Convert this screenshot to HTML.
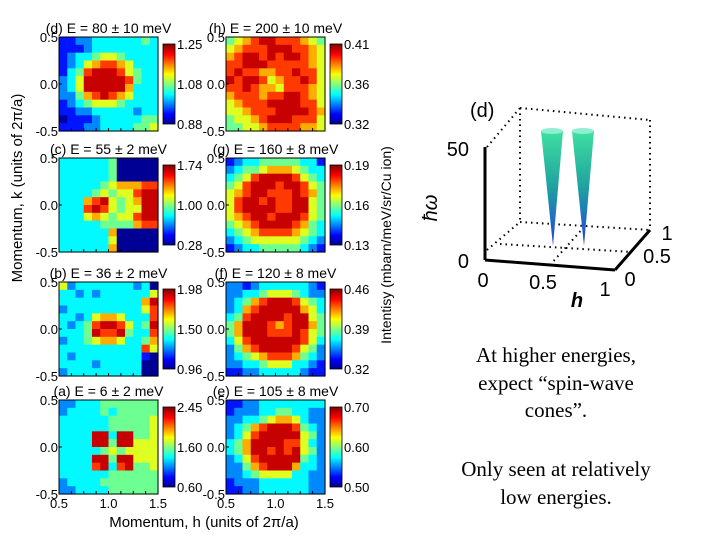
<!DOCTYPE html>
<html><head><meta charset="utf-8"><style>
body{margin:0;background:#fff;}
svg{display:block;font-family:"Liberation Sans",sans-serif;}
.t{font-family:"Liberation Serif",serif;font-size:21px;}
</style></head><body>
<svg id="s" width="720" height="540" viewBox="0 0 720 540">
<defs>
<linearGradient id="jet" x1="0" y1="1" x2="0" y2="0">
<stop offset="0" stop-color="#00008f"/><stop offset="0.12" stop-color="#0000ff"/><stop offset="0.37" stop-color="#00ffff"/><stop offset="0.62" stop-color="#ffff00"/><stop offset="0.87" stop-color="#ff0000"/><stop offset="1" stop-color="#800000"/>
</linearGradient>
<linearGradient id="cone" x1="0" y1="0" x2="0" y2="1">
<stop offset="0" stop-color="#3fe0a0"/><stop offset="0.5" stop-color="#1fa0a0"/><stop offset="1" stop-color="#2040e0"/>
</linearGradient>
</defs>
<g id="panels"></g>
<text x="22" y="188" font-size="15" text-anchor="middle" transform="rotate(-90 22 188)">Momentum, k (units of 2π/a)</text>
<text x="391" y="245" font-size="14" text-anchor="middle" transform="rotate(-90 391 245)">Intentisy (mbarn/meV/sr/Cu ion)</text>
<text x="204" y="527" font-size="15" text-anchor="middle">Momentum, h (units of 2π/a)</text>

<g>
<g stroke="#000" stroke-width="2" stroke-dasharray="1.5 4" fill="none">
<line x1="520" y1="108" x2="650" y2="120"/><line x1="650" y1="120" x2="650" y2="230"/>
<line x1="520" y1="108" x2="520" y2="222"/><line x1="520" y1="222" x2="650" y2="230"/>
<line x1="487" y1="147" x2="520" y2="108"/><line x1="487" y1="250" x2="520" y2="222"/>
<line x1="550" y1="265" x2="585" y2="226"/><line x1="500" y1="244" x2="632" y2="252"/>
</g>
<g stroke="#000" stroke-width="3" fill="none">
<line x1="485" y1="147" x2="485" y2="260"/><line x1="485" y1="260" x2="615" y2="270"/><line x1="615" y1="270" x2="650" y2="230"/>
</g>
<polygon points="541,131 563,131 553,246" fill="url(#cone)"/>
<ellipse cx="552" cy="131" rx="11" ry="3" fill="#8fefd0"/>
<polygon points="572,131 594,131 584,246" fill="url(#cone)"/>
<ellipse cx="583" cy="131" rx="11" ry="3" fill="#8fefd0"/>
<g font-size="20">
<text x="470" y="117">(d)</text>
<text x="469" y="156" text-anchor="end">50</text>
<text x="469" y="268" text-anchor="end">0</text>
<text x="483" y="287" text-anchor="middle">0</text>
<text x="543" y="289" text-anchor="middle">0.5</text>
<text x="605" y="296" text-anchor="middle">1</text>
<text x="630" y="286" text-anchor="middle">0</text>
<text x="657" y="263" text-anchor="middle">0.5</text>
<text x="667" y="240" text-anchor="middle">1</text>
<text x="577" y="307" font-style="italic" font-weight="bold" text-anchor="middle">h</text>
<text x="437" y="208" font-style="italic" text-anchor="middle" transform="rotate(-90 437 208)">ħω</text>
</g>
</g>
<g text-anchor="middle">
<text class="t" x="556" y="362">At higher energies,</text>
<text class="t" x="556" y="390">expect “spin-wave</text>
<text class="t" x="556" y="417">cones”.</text>
<text class="t" x="556" y="476">Only seen at relatively</text>
<text class="t" x="556" y="504">low energies.</text>
</g>
</svg>
<script>
const titles=["(d) E = 80 ± 10 meV","(h) E = 200 ± 10 meV","(c) E = 55 ± 2 meV","(g) E = 160 ± 8 meV","(b) E = 36 ± 2 meV","(f) E = 120 ± 8 meV","(a) E = 6 ± 2 meV","(e) E = 105 ± 8 meV"];
const cbTicks=[["1.25","1.08","0.88"],["0.41","0.36","0.32"],["1.74","1.00","0.28"],["0.19","0.16","0.13"],["1.98","1.50","0.96"],["0.46","0.39","0.32"],["2.45","1.60","0.60"],["0.70","0.60","0.50"]];
const yTicks=["0.5","0.0","-0.5"];
const xTicks=["0.5","1.0","1.5"];
const gridD=["223344444454","222344444444","234456654444","234678876444","245899986544","346999998544","346999997444","335789876444","234566654444","223344444344","122234444455","222334444556"];
const gridH=["567899888765","678889998876","789989899876","889998888876","898877889886","989986788986","889877688876","788878899876","678889999886","667888999987","566789998886","556678888776"];
const gridC=["444444500000","444444500000","444444500000","444445677788","444456566899","444789656799","444898656699","444676566899","444445555788","444444700000","444444600000","444444700000"];
const gridG=["234455555442","345567776544","456899998654","568999899865","678998889875","689989889965","689999889965","678998999865","567899998754","456788887654","345666666543","234455555432"];
const gridB=["634444444340","443434444446","444444444479","344444444468","443467764448","434589986459","444598895448","344567764457","444444444486","434444444420","444434444400","344444444400"];
const gridF=["332344444432","334456665433","345789998654","347899999764","458999989965","579998789975","579998889865","468999999864","357899998653","345678887543","334456664432","223344444322"];
const gridA=["334445555555","344445455555","444444555556","444444555556","444499499556","444499599666","444445656666","444499599666","444489489556","444444555555","344445555555","334444555555"];
const gridE=["223344444444","233344554433","334456776433","345789998543","346899999653","457999988643","457998989653","346899999543","335789997443","334566664433","233344444433","223344444433"];
const grids=[gridD,gridH,gridC,gridG,gridB,gridF,gridA,gridE];
const NS="http://www.w3.org/2000/svg";
function jet(v){const t=v===0?0.02:-0.078+v*0.112;const c=x=>Math.round(255*Math.max(0,Math.min(1,1.5-Math.abs(4*t-x))));return `rgb(${c(3)},${c(2)},${c(1)})`;}
function mk(tag,attrs,parent){const e=document.createElementNS(NS,tag);for(const k in attrs)e.setAttribute(k,attrs[k]);parent.appendChild(e);return e;}
const root=document.getElementById('panels');
const colX=[59,226],rowY=[37,158,282,400],W=99,H=94;
grids.forEach((g,i)=>{
 const x0=colX[i%2],y0=rowY[Math.floor(i/2)];
 const pg=mk('g',{},root);
 
 
 const n=g.length,m=g[0].length,cw=W/m,ch=H/n;
 for(let r=0;r<n;r++)for(let c=0;c<m;c++){
  const v=+g[r][c];
  const rc=mk('rect',{x:x0+c*cw,y:y0+r*ch,width:cw+0.6,height:ch+0.6,fill:jet(v)},pg);
  
  
 }
 mk('rect',{x:x0,y:y0,width:W,height:H,fill:'none',stroke:'#000','stroke-width':1},pg);
 const tt=mk('text',{x:x0+W/2,y:y0-4,'font-size':14,'text-anchor':'middle'},pg);tt.textContent=titles[i];
 
 
 yTicks.forEach((s,k)=>{const y=y0+k*H/2;const t=mk('text',{x:x0-1,y:y+5,'font-size':13,'text-anchor':'end'},pg);t.textContent=s;
  
  
  mk('line',{x1:x0,y1:y,x2:x0+3,y2:y,stroke:'#000'},pg);});
 if(Math.floor(i/2)===3){xTicks.forEach((s,k)=>{const x=x0+k*W/2;const t=mk('text',{x:x,y:y0+H+14,'font-size':13,'text-anchor':'middle'},pg);t.textContent=s;
  
  });}
 for(let k=0;k<=8;k++){const x=x0+k*W/8;mk('line',{x1:x,y1:y0+H,x2:x,y2:y0+H-3,stroke:'#000'},pg);}
 const cx=x0+W+5,cy=y0+7,chh=H-14;
 const cb=mk('rect',{x:cx,y:cy,width:12,height:chh,fill:'url(#jet)',stroke:'#000','stroke-width':0.8},pg);
 
 
 cbTicks[i].forEach((s,k)=>{const y=cy+k*chh/2;const t=mk('text',{x:cx+14,y:y+5,'font-size':13},pg);t.textContent=s;
  
  });
});
</script>
</body></html>
